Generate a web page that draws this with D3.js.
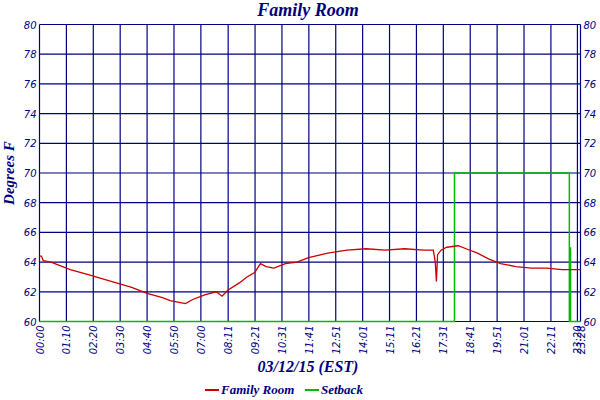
<!DOCTYPE html>
<html><head><meta charset="utf-8">
<script src="https://cdn.jsdelivr.net/npm/d3@7"></script>
<style>
body{margin:0;background:#fff;}
text{fill:#000080;}
</style></head>
<body><div id="chart"></div>
<script>
// minutes since midnight / degrees F
const roomMin = [0,5,10,30,60,80,120,160,200,240,280,320,340,360,380,400,430,460,475,490,520,540,560,575,590,610,640,670,700,750,800,850,900,950,1000,1025,1030,1033,1036,1045,1060,1090,1110,1140,1170,1200,1240,1280,1320,1360,1400,1408];
const roomTemp = [64.4,64.4,64.1,64.0,63.7,63.5,63.2,62.9,62.6,62.3,61.9,61.6,61.4,61.3,61.2,61.5,61.8,62.0,61.7,62.1,62.6,63.0,63.3,63.9,63.7,63.6,63.9,64.0,64.3,64.6,64.8,64.9,64.8,64.9,64.8,64.8,64.0,62.7,64.5,64.8,65.0,65.1,64.9,64.6,64.2,63.9,63.7,63.6,63.6,63.5,63.5,63.5];
const setMin = [0,1080,1080,1379,1379,1382,1382,1382,1408];
const setTemp = [60,60,70,70,60,60,65,60,60];
const tickMin = [0,70,140,210,280,350,420,491,561,631,701,771,841,911,981,1051,1121,1191,1261,1331,1400,1408];
const tickLab = ['00:00','01:10','02:20','03:30','04:40','05:50','07:00','08:11','09:21','10:31','11:41','12:51','14:01','15:11','16:21','17:31','18:41','19:51','21:01','22:11','23:20','23:28'];
const yTicks = [60,62,64,66,68,70,72,74,76,78,80];

const width = 600, height = 400;
const margins = { top: 24.5, right: 19.5, bottom: 78.5, left: 39.5 };
const navy = '#000080';

const svg = d3.select('#chart').append('svg').attr('width', width).attr('height', height);

const x = d3.scaleLinear().domain([0, 1408]).range([margins.left, width - margins.right]);
const y = d3.scaleLinear().domain([60, 80]).range([height - margins.bottom, margins.top]);

// Grid
svg.append('g').selectAll('line').data(tickMin).join('line')
  .attr('x1', d => x(d)).attr('x2', d => x(d))
  .attr('y1', y(80)).attr('y2', y(60))
  .attr('stroke', navy).attr('stroke-width', 1.2);
svg.append('g').selectAll('line').data(yTicks).join('line')
  .attr('x1', x(0)).attr('x2', x(1408))
  .attr('y1', d => y(d)).attr('y2', d => y(d))
  .attr('stroke', navy).attr('stroke-width', 1.2);

// Axis labels
const tickText = sel => sel.attr('font-family', 'DejaVu Sans').attr('font-style', 'italic').attr('font-size', 10);
svg.append('g').selectAll('text').data(yTicks).join('text')
  .attr('x', x(0) - 3).attr('y', d => y(d) + 4).attr('text-anchor', 'end')
  .call(tickText).text(d => d);
svg.append('g').selectAll('text').data(yTicks).join('text')
  .attr('x', x(1408) + 3).attr('y', d => y(d) + 4).attr('text-anchor', 'start')
  .call(tickText).text(d => d);
svg.append('g').selectAll('text').data(tickMin).join('text')
  .attr('transform', d => `translate(${x(d) + 4},${y(60) + 4}) rotate(-90)`)
  .attr('text-anchor', 'end')
  .call(tickText).text((d, i) => tickLab[i]);

// Series
const line = d3.line().x(d => x(d[0])).y(d => y(d[1]));
svg.append('path').datum(setMin.map((m, i) => [m, setTemp[i]]))
  .attr('d', line)
  .attr('fill', 'none').attr('stroke', '#00bb00').attr('stroke-width', 1.5);
svg.append('path').datum(roomMin.map((m, i) => [m, roomTemp[i]]))
  .attr('d', line)
  .attr('fill', 'none').attr('stroke', '#cc0000').attr('stroke-width', 1.3);

// Titles
const ttl = (t, xx, yy, size) => svg.append('text').attr('x', xx).attr('y', yy)
  .attr('text-anchor', 'middle').attr('font-family', 'Liberation Serif')
  .attr('font-style', 'italic').attr('font-weight', 'bold').attr('font-size', size).text(t);
ttl('Family Room', 308, 16, 18);
ttl('03/12/15 (EST)', 308, 372, 16);
ttl('Degrees F', 0, 0, 15).attr('transform', 'translate(14,173) rotate(-90)');

// Legend
const legend = [['Family Room', '#cc0000', 205], ['Setback', '#00bb00', 305]];
legend.forEach(([name, col, lx]) => {
  svg.append('line').attr('x1', lx).attr('x2', lx + 14).attr('y1', 390).attr('y2', 390)
    .attr('stroke', col).attr('stroke-width', 2);
  svg.append('text').attr('x', lx + 16).attr('y', 394).attr('font-family', 'Liberation Serif')
    .attr('font-style', 'italic').attr('font-weight', 'bold').attr('font-size', 13).text(name);
});
</script></body></html>
